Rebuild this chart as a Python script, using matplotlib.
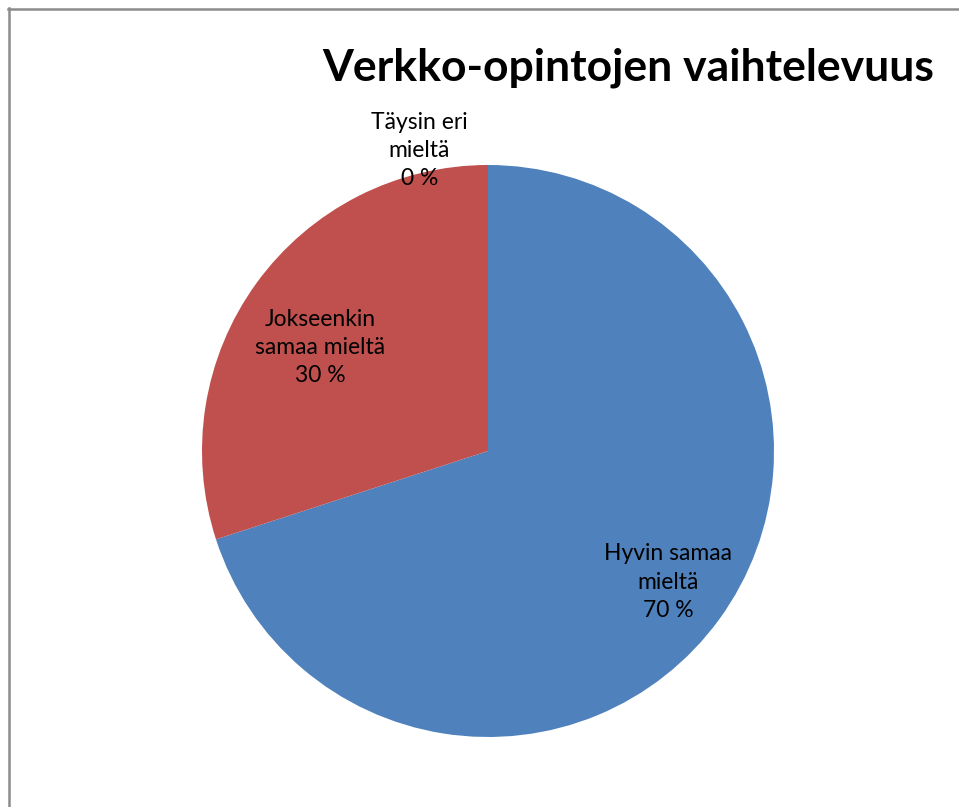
import numpy as np
import matplotlib
matplotlib.use("Agg")
from matplotlib import pyplot as plt
from matplotlib.lines import Line2D

# chart data
categories = ["Hyvin samaa\nmieltä", "Jokseenkin\nsamaa mieltä", "Täysin eri\nmieltä"]
shares = [70, 30, 0]
colors = ["#4F81BD", "#C0504D", "#9BBB59"]
title = "Verkko-opintojen vaihtelevuus"

W, H = 959, 807
fig = plt.figure(figsize=(W / 100, H / 100), dpi=100)

# pie center / radius in pixels
cx, cy, r = 488, 451, 286
ax = fig.add_axes([(cx - r) / W, (H - cy - r) / H, 2 * r / W, 2 * r / H])

wedges, _ = ax.pie(
    shares,
    colors=colors,
    startangle=90,
    counterclock=False,
    radius=1.0,
    wedgeprops=dict(linewidth=0),
)
ax.set_xlim(-1, 1)
ax.set_ylim(-1, 1)
ax.set_aspect("equal")
ax.axis("off")

# label placement (distance from center, extra offset)
label_dist = [0.78, 0.70, 1.05]
label_shift = [(0.0, 0.0), (-0.02, -0.05), (-0.24, 0.0)]
for w, cat, val, d, (dx, dy) in zip(wedges, categories, shares, label_dist, label_shift):
    ang = np.deg2rad((w.theta1 + w.theta2) / 2)
    x = d * np.cos(ang) + dx
    y = d * np.sin(ang) + dy
    ax.text(x, y, f"{cat}\n{val} %", ha="center", va="center",
            fontsize=16.5, family="Lato", linespacing=1.42, color="black")

fig.text(628 / W, 1 - 68 / H, title, ha="center", va="center",
         fontsize=32, fontweight="bold", family="Lato")

# chart area frame (only top/left visible)
fig.add_artist(Line2D([8.5 / W, 8.5 / W], [0, 1 - 8 / H], transform=fig.transFigure,
                      color="#8c8c8c", linewidth=1.8))
fig.add_artist(Line2D([8 / W, 1], [1 - 8.5 / H, 1 - 8.5 / H], transform=fig.transFigure,
                      color="#8c8c8c", linewidth=1.8))

fig.savefig("out.png", dpi=100, facecolor="white")
